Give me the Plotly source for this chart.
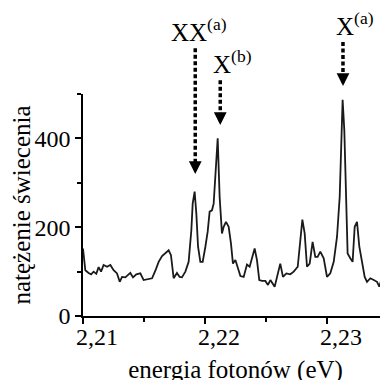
import plotly.graph_objects as go

# ---- data ----
energy = [2.21000, 2.21019, 2.21046, 2.21066, 2.21087, 2.21109, 2.21128, 2.21148, 2.21169, 2.21197,
          2.21224, 2.21251, 2.21279, 2.21301, 2.21320, 2.21347, 2.21388, 2.21410, 2.21437, 2.21470,
          2.21497, 2.21525, 2.21566, 2.21593, 2.21620, 2.21648, 2.21675, 2.21702, 2.21721, 2.21743,
          2.21770, 2.21792, 2.21811, 2.21839, 2.21866, 2.21888, 2.21899, 2.21915, 2.21929, 2.21943,
          2.21962, 2.21981, 2.22003, 2.22022, 2.22038, 2.22057, 2.22071, 2.22085, 2.22104, 2.22120,
          2.22139, 2.22153, 2.22172, 2.22194, 2.22213, 2.22229, 2.22249, 2.22262, 2.22290, 2.22317,
          2.22344, 2.22366, 2.22385, 2.22407, 2.22426, 2.22445, 2.22467, 2.22495, 2.22516, 2.22536,
          2.22571, 2.22590, 2.22617, 2.22639, 2.22667, 2.22699, 2.22727, 2.22760, 2.22781, 2.22798,
          2.22817, 2.22836, 2.22858, 2.22882, 2.22904, 2.22923, 2.22945, 2.22973, 2.23000, 2.23027,
          2.23055, 2.23082, 2.23104, 2.23117, 2.23128, 2.23142, 2.23156, 2.23169, 2.23191, 2.23210,
          2.23227, 2.23246, 2.23265, 2.23287, 2.23309, 2.23328, 2.23355, 2.23383, 2.23410, 2.23429,
          2.23445, 2.23465, 2.23486, 2.23505]
intensity = [152, 103, 97, 94, 100, 95, 110, 100, 115, 111,
             115, 103, 96, 77, 88, 87, 97, 87, 94, 96,
             81, 83, 85, 102, 122, 135, 142, 148, 137, 85,
             97, 88, 87, 100, 122, 193, 253, 280, 231, 156,
             122, 122, 156, 190, 235, 238, 253, 321, 400, 268,
             186, 201, 212, 201, 163, 118, 126, 115, 90, 88,
             116, 111, 133, 152, 126, 81, 79, 79, 70, 81,
             66, 88, 118, 88, 96, 94, 100, 111, 171, 217,
             186, 111, 118, 167, 133, 133, 145, 130, 88, 96,
             122, 178, 268, 396, 487, 418, 283, 141, 130, 122,
             201, 212, 156, 118, 88, 77, 85, 81, 77, 66,
             82, 81, 100, 111]

x_tickvals = [2.21, 2.22, 2.23]
x_ticktext = ["2,21", "2,22", "2,23"]
x_minor = [2.215, 2.225, 2.235]
y_tickvals = [0, 200, 400]
y_ticktext = ["0", "200", "400"]
y_minor = [100, 300, 500]

# peak markers: label text, label position, arrow position (intensity units)
labels = ["XX<sup>(a)</sup>", "X<sup>(b)</sup>", "X<sup>(a)</sup>"]
label_x = [2.21954, 2.22228, 2.23232]
label_y = [603, 531, 616]
arrow_x = [2.21920, 2.22125, 2.23131]
arrow_top = [603, 531, 617]
arrow_tip = [320, 430, 518]

XMIN, XMAX = 2.21, 2.235
YMIN, YMAX = 0, 500
FONT = "Liberation Serif"

fig = go.Figure()
fig.add_trace(go.Scatter(x=energy, y=intensity, mode="lines",
                         line=dict(color="#1a1a1a", width=1.8), hoverinfo="skip"))

def to_paper(v):
    return (v - YMIN) / (YMAX - YMIN)

for lab, lx, ly, ax_, at, tip in zip(labels, label_x, label_y, arrow_x, arrow_top, arrow_tip):
    fig.add_shape(type="line", xref="x", yref="paper",
                  x0=ax_, x1=ax_, y0=to_paper(at), y1=to_paper(tip) + 0.03,
                  line=dict(color="black", width=3.5, dash="4px,2.5px"))
    fig.add_annotation(x=ax_, y=to_paper(tip), xref="x", yref="paper", text="",
                       showarrow=True, ax=0, ay=-13, arrowhead=2, arrowsize=0.85,
                       arrowwidth=3, arrowcolor="black", standoff=0)
    fig.add_annotation(x=lx, y=to_paper(ly), xref="x", yref="paper", text=lab,
                       showarrow=False, xanchor="center", yanchor="bottom",
                       font=dict(family=FONT, size=25, color="black"))

axis_common = dict(showline=True, linecolor="black", linewidth=1.5, ticks="outside",
                   ticklen=6, tickwidth=1.5, tickcolor="black", showgrid=False,
                   zeroline=False, automargin=False,
                   tickfont=dict(family=FONT, size=24, color="black"))

fig.update_xaxes(range=[XMIN, XMAX], tickvals=x_tickvals, ticktext=x_ticktext,
                 ticklabelstandoff=-8, ticklabelshift=14,
                 minor=dict(tickvals=x_minor, ticks="outside", ticklen=4, tickwidth=1.5,
                            tickcolor="black"),
                 title=dict(text="energia fotonów (eV)", font=dict(family=FONT, size=25, color="black"),
                            standoff=12),
                 **axis_common)
fig.update_yaxes(range=[YMIN, YMAX], tickvals=y_tickvals, ticktext=y_ticktext,
                 minor=dict(tickvals=y_minor, ticks="outside", ticklen=4, tickwidth=1.5,
                            tickcolor="black"),
                 title=dict(text="natężenie świecenia", font=dict(family=FONT, size=25, color="black"),
                            standoff=0),
                 **axis_common)

# the page body adds an 8 px offset; the figure bottom runs past the window edge,
# so the x-axis title is cut there as in the reference
fig.update_layout(width=380, height=380, margin=dict(l=75, r=0, t=86, b=72),
                  paper_bgcolor="white", plot_bgcolor="white", showlegend=False)

fig.write_html("out.html")
